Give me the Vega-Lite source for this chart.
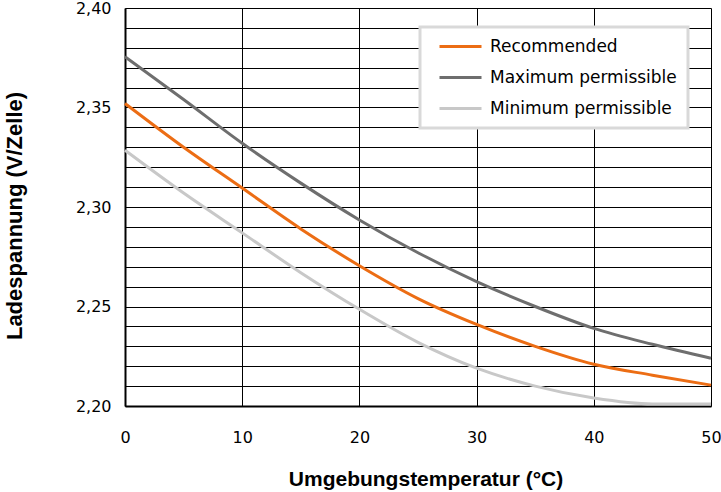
{
  "$schema": "https://vega.github.io/schema/vega-lite/v6.json",
  "autosize": {"type": "none"},
  "padding": {"left": 125, "top": 8, "right": 10, "bottom": 86},
  "width": 586,
  "height": 398,
  "background": "white",
  "config": {
    "view": {"stroke": null},
    "axis": {"labelFont": "DejaVu Sans", "labelColor": "black", "titleFont": "Liberation Sans", "titleColor": "black", "gridColor": "black", "gridWidth": 1, "gridOpacity": 1, "domainColor": "black", "domainWidth": 2, "ticks": false, "labelOverlap": false, "labelBound": false, "labelFlush": false}
  },
  "data": {"values": [
    {"t": 0, "v": 2.352, "s": "Recommended"},
    {"t": 5, "v": 2.330, "s": "Recommended"},
    {"t": 10, "v": 2.3095, "s": "Recommended"},
    {"t": 15, "v": 2.289, "s": "Recommended"},
    {"t": 20, "v": 2.2705, "s": "Recommended"},
    {"t": 25, "v": 2.254, "s": "Recommended"},
    {"t": 30, "v": 2.241, "s": "Recommended"},
    {"t": 35, "v": 2.230, "s": "Recommended"},
    {"t": 40, "v": 2.221, "s": "Recommended"},
    {"t": 45, "v": 2.2155, "s": "Recommended"},
    {"t": 50, "v": 2.2105, "s": "Recommended"},
    {"t": 0, "v": 2.3755, "s": "Maximum permissible"},
    {"t": 5, "v": 2.354, "s": "Maximum permissible"},
    {"t": 10, "v": 2.332, "s": "Maximum permissible"},
    {"t": 15, "v": 2.312, "s": "Maximum permissible"},
    {"t": 20, "v": 2.2935, "s": "Maximum permissible"},
    {"t": 25, "v": 2.277, "s": "Maximum permissible"},
    {"t": 30, "v": 2.2625, "s": "Maximum permissible"},
    {"t": 35, "v": 2.250, "s": "Maximum permissible"},
    {"t": 40, "v": 2.239, "s": "Maximum permissible"},
    {"t": 45, "v": 2.231, "s": "Maximum permissible"},
    {"t": 50, "v": 2.224, "s": "Maximum permissible"},
    {"t": 0, "v": 2.3285, "s": "Minimum permissible"},
    {"t": 5, "v": 2.307, "s": "Minimum permissible"},
    {"t": 10, "v": 2.287, "s": "Minimum permissible"},
    {"t": 15, "v": 2.267, "s": "Minimum permissible"},
    {"t": 20, "v": 2.2486, "s": "Minimum permissible"},
    {"t": 25, "v": 2.232, "s": "Minimum permissible"},
    {"t": 30, "v": 2.219, "s": "Minimum permissible"},
    {"t": 35, "v": 2.210, "s": "Minimum permissible"},
    {"t": 40, "v": 2.204, "s": "Minimum permissible"},
    {"t": 45, "v": 2.201, "s": "Minimum permissible"},
    {"t": 50, "v": 2.201, "s": "Minimum permissible"}
  ]},
  "mark": {"type": "line", "strokeWidth": 3, "interpolate": "monotone"},
  "encoding": {
    "x": {
      "field": "t", "type": "quantitative",
      "scale": {"domain": [0, 50], "nice": false},
      "axis": {"values": [0, 10, 20, 30, 40, 50], "labelFontSize": 16, "labelPadding": 31, "labelBaseline": "middle", "title": "Umgebungstemperatur (°C)", "titleFontSize": 21, "titleFontWeight": "bold", "titleX": 300.5, "titleY": 73, "titleBaseline": "middle", "titleAlign": "center"}
    },
    "y": {
      "field": "v", "type": "quantitative",
      "scale": {"domain": [2.2, 2.4], "nice": false, "zero": false},
      "axis": {
        "values": [2.20, 2.21, 2.22, 2.23, 2.24, 2.25, 2.26, 2.27, 2.28, 2.29, 2.30, 2.31, 2.32, 2.33, 2.34, 2.35, 2.36, 2.37, 2.38, 2.39, 2.40],
        "labelExpr": "(round(datum.value*100)%5==0) ? replace(format(datum.value,'.2f'),'.',',') : ''",
        "labelFontSize": 16, "labelPadding": 14,
        "title": "Ladespannung (V/Zelle)", "titleFontSize": 22, "titleFontWeight": "bold", "titleAngle": -90, "titleX": -111, "titleY": 207.5, "titleBaseline": "middle", "titleAlign": "center"
      }
    },
    "color": {
      "field": "s", "type": "nominal",
      "scale": {"domain": ["Recommended", "Maximum permissible", "Minimum permissible"], "range": ["#EC6D14", "#6E6E6E", "#C8C8C8"]},
      "legend": {
        "title": null, "orient": "none", "legendX": 295, "legendY": 19,
        "fillColor": "white", "strokeColor": "#D9D9D9", "padding": 11,
        "symbolType": "M0,0H6", "symbolSize": 196, "symbolStrokeWidth": 3,
        "labelFont": "DejaVu Sans", "labelFontSize": 17, "labelColor": "black", "labelOffset": 42, "labelLimit": 400, "rowPadding": 13,
        "encode": {"legend": {"update": {"strokeWidth": {"value": 3}}}}
      }
    }
  }
}
